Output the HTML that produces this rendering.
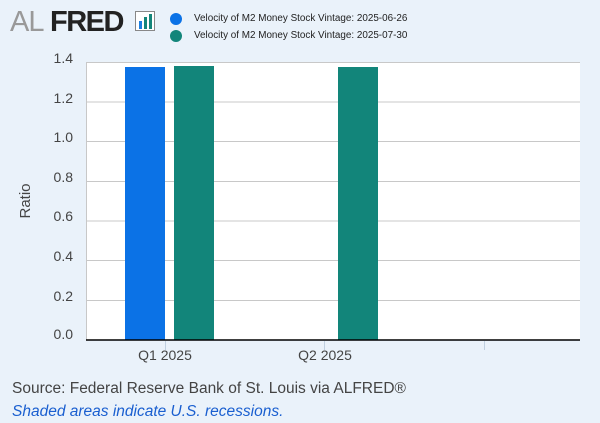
<!DOCTYPE html><html><head><style>
body{margin:0;width:600px;height:423px;background:#eaf2fa;font-family:"Liberation Sans",sans-serif;position:relative;overflow:hidden}
</style></head><body>
<svg width="600" height="423" style="position:absolute;left:0;top:0">
<text x="10" y="31" font-size="29" fill="#999" font-family="Liberation Sans" letter-spacing="-1">AL</text>
<text x="50" y="31" font-size="29" font-weight="bold" fill="#222" font-family="Liberation Sans" letter-spacing="-1.5">FRED</text>
<rect x="135.5" y="11.5" width="19" height="19" fill="#fff" stroke="#888"/>
<rect x="139" y="21" width="3" height="8" fill="#1c7fe0"/><rect x="144" y="17" width="3" height="12" fill="#13857a"/><rect x="149" y="14" width="3" height="15" fill="#13857a"/>
<circle cx="176" cy="19" r="6" fill="#0b72e6"/><circle cx="176" cy="36" r="6" fill="#12857a"/>
<text x="194" y="21" font-size="9.9" fill="#222">Velocity of M2 Money Stock Vintage: 2025-06-26</text>
<text x="194" y="38" font-size="9.9" fill="#222">Velocity of M2 Money Stock Vintage: 2025-07-30</text>
<rect x="86" y="62" width="494" height="278" fill="#fff"/>
<g stroke="#c8c8c8" stroke-width="1">
<line x1="86" x2="580" y1="62.5" y2="62.5"/><line x1="86" x2="580" y1="102" y2="102"/><line x1="86" x2="580" y1="141.5" y2="141.5"/><line x1="86" x2="580" y1="181.5" y2="181.5"/><line x1="86" x2="580" y1="221" y2="221"/><line x1="86" x2="580" y1="260.5" y2="260.5"/><line x1="86" x2="580" y1="300.5" y2="300.5"/>
<line x1="86.5" x2="86.5" y1="62" y2="340"/>
</g>
<rect x="125" y="67" width="40" height="273" fill="#0b72e6"/>
<rect x="174" y="66" width="40" height="274" fill="#12857a"/>
<rect x="338" y="67" width="40" height="273" fill="#12857a"/>
<line x1="86" x2="580" y1="340" y2="340" stroke="#000" stroke-width="1.5"/>
<g stroke="#c0d0e0"><line x1="165.5" x2="165.5" y1="341" y2="350"/><line x1="324.5" x2="324.5" y1="341" y2="350"/><line x1="484.5" x2="484.5" y1="341" y2="350"/></g>
<g font-size="14" fill="#444" text-anchor="end">
<text x="73" y="63">1.4</text><text x="73" y="103">1.2</text><text x="73" y="142">1.0</text><text x="73" y="182">0.8</text><text x="73" y="221">0.6</text><text x="73" y="261">0.4</text><text x="73" y="301">0.2</text><text x="73" y="339">0.0</text>
</g>
<g font-size="14" fill="#444" text-anchor="middle"><text x="165" y="360">Q1 2025</text><text x="325" y="360">Q2 2025</text></g>
<text transform="translate(30,201) rotate(-90)" font-size="15" fill="#444" text-anchor="middle">Ratio</text>
<text x="12" y="393" font-size="15.5" fill="#444">Source: Federal Reserve Bank of St. Louis via ALFRED®</text>
<text x="12" y="416" font-size="15.5" fill="#1a5fd0" font-style="italic">Shaded areas indicate U.S. recessions.</text>
</svg>
</body></html>
